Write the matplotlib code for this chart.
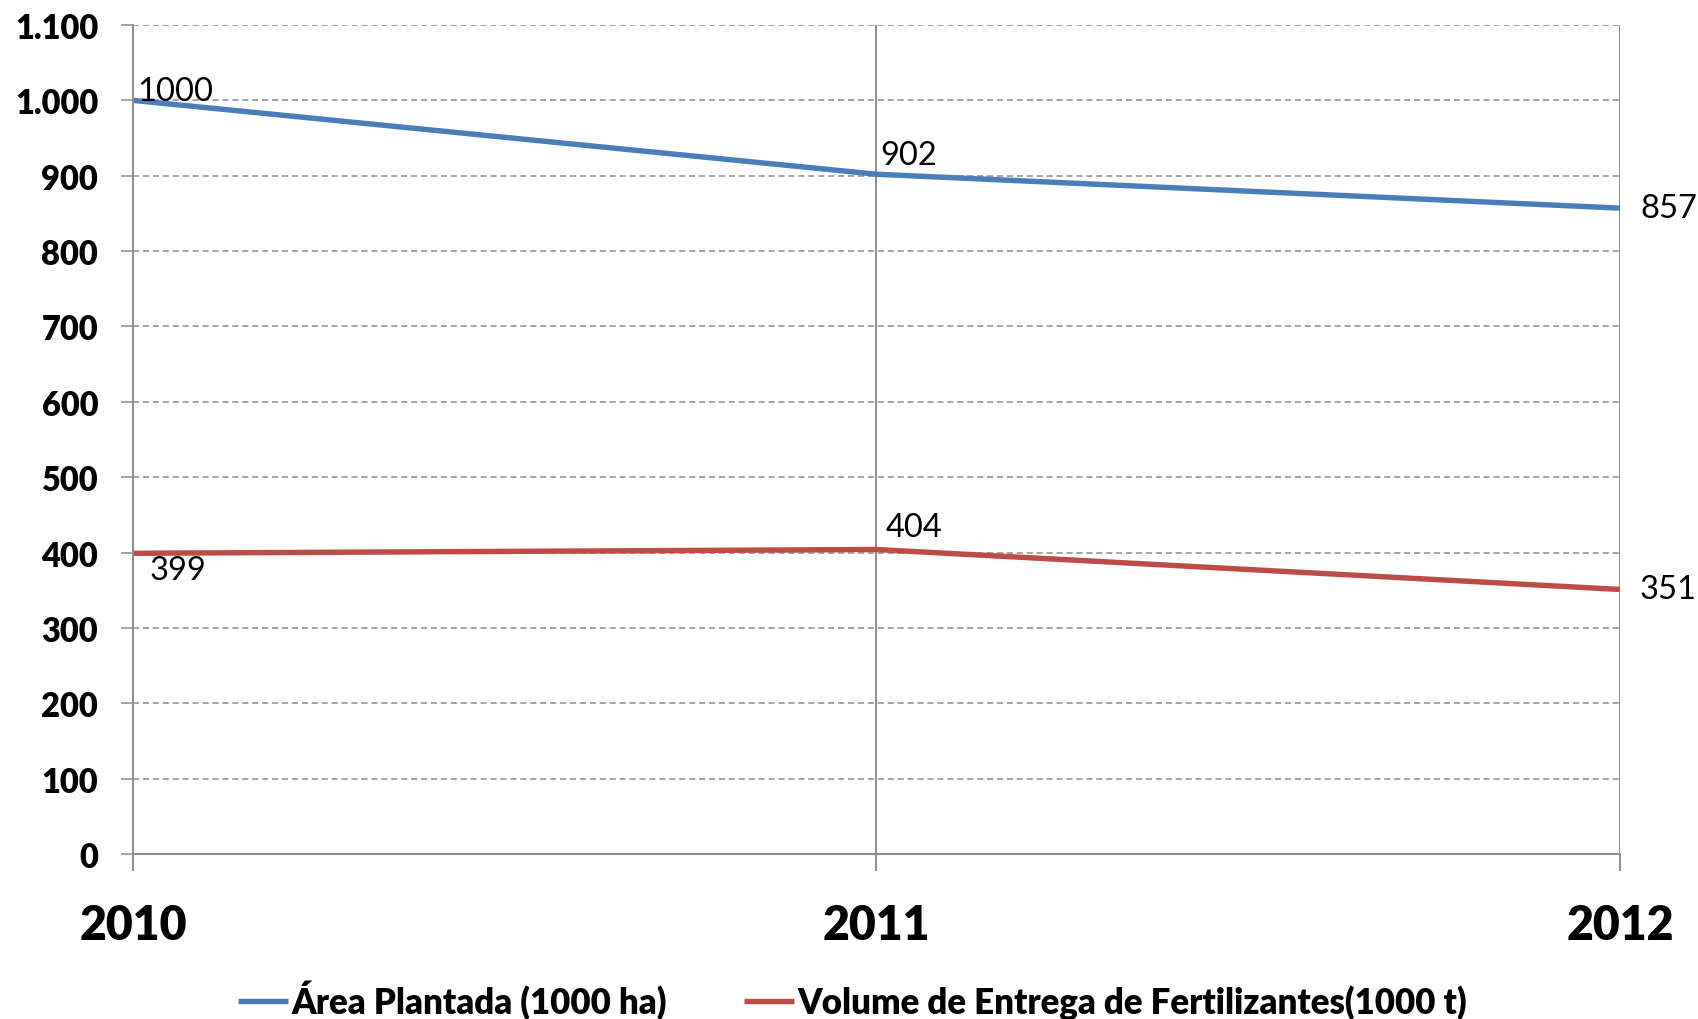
import matplotlib

matplotlib.use("Agg")
import matplotlib.pyplot as plt
from matplotlib.ticker import FuncFormatter

# chart data
years = ["2010", "2011", "2012"]
area_plantada = [1000, 902, 857]
volume_fertilizantes = [399, 404, 351]
series_labels = ["Área Plantada (1000 ha)", "Volume de Entrega de Fertilizantes(1000 t)"]

BLUE = "#4A7EBB"
RED = "#BE4B48"
GRID = "#8C8C8C"

plt.rcParams["font.family"] = ["Lato", "DejaVu Sans"]

fig = plt.figure(figsize=(16.98, 10.2), dpi=100)
ax = fig.add_axes([0.0783, 0.1618, 0.954 - 0.0783, 0.9745 - 0.1618])

x = list(range(len(years)))
ax.plot(x, area_plantada, color=BLUE, linewidth=3.9, label=series_labels[0], solid_capstyle="butt")
ax.plot(x, volume_fertilizantes, color=RED, linewidth=3.9, label=series_labels[1], solid_capstyle="butt")

ax.set_xlim(0, 2)
ax.set_ylim(0, 1100)
ax.set_yticks(range(0, 1101, 100))
ax.yaxis.set_major_formatter(FuncFormatter(lambda v, _: f"{int(v):,}".replace(",", ".")))
ax.set_xticks(x)
ax.set_xticklabels(years)

# horizontal dashed grid, vertical solid lines at each category
for v in range(100, 1101, 100):
    ax.axhline(v, color=GRID, linewidth=1.1, linestyle=(0, (4, 2.5)), zorder=0)
for xi in x[1:]:
    ax.axvline(xi, color=GRID, linewidth=1.4, zorder=0)

for side in ["top", "right"]:
    ax.spines[side].set_visible(False)
for side in ["left", "bottom"]:
    ax.spines[side].set_color(GRID)
    ax.spines[side].set_linewidth(1.4)

ax.tick_params(axis="y", length=9, width=1.1, color=GRID, pad=16, labelsize=23.5)
ax.tick_params(axis="x", length=12, width=1.4, color=GRID, pad=23, labelsize=33.5)
for lbl in ax.get_yticklabels() + ax.get_xticklabels():
    lbl.set_fontweight("heavy")

# data labels (offsets in points)
label_offsets_area = [(3, 7, "left", "center"), (3, 14, "left", "center"), (15, 0, "left", "center")]
label_offsets_vol = [(12, -12, "left", "center"), (7, 16, "left", "center"), (14, 0, "left", "center")]
for xi, v, (dx, dy, ha, va) in zip(x, area_plantada, label_offsets_area):
    ax.annotate(str(v), (xi, v), xytext=(dx, dy), textcoords="offset points",
                ha=ha, va=va, fontsize=23.5, annotation_clip=False)
for xi, v, (dx, dy, ha, va) in zip(x, volume_fertilizantes, label_offsets_vol):
    ax.annotate(str(v), (xi, v), xytext=(dx, dy), textcoords="offset points",
                ha=ha, va=va, fontsize=23.5, annotation_clip=False)

fig.legend(loc="center", bbox_to_anchor=(0.502, 0.019), ncol=2, frameon=False,
           prop={"weight": "heavy", "size": 25}, handlelength=1.45, handletextpad=0.1,
           columnspacing=2.2)

fig.savefig("out.png", dpi=100)
